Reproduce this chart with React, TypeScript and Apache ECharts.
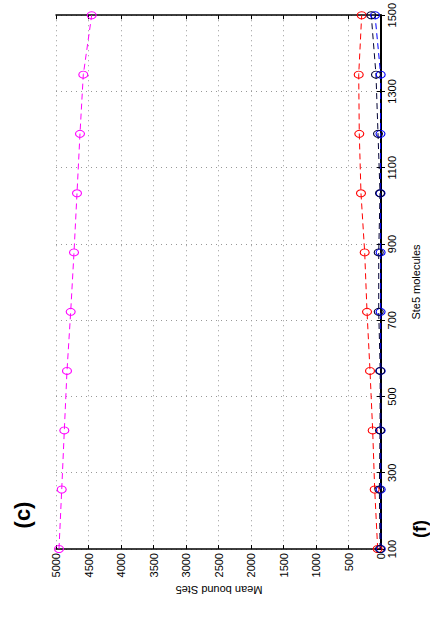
import React, { useEffect, useRef } from "react";
import * as echarts from "echarts";

const molecules = [100, 256, 411, 567, 722, 878, 1033, 1189, 1344, 1500];
const magentaSeries = [4954, 4912, 4872, 4831, 4774, 4723, 4677, 4631, 4580, 4451];
const redSeries = [51, 97, 128, 169, 215, 251, 308, 334, 343, 297];
const blueSeries = [3, 4, 5, 5, 6, 6, 7, 8, 5, 92];
const blackSeries = [15, 25, 15, 12, 35, 35, 15, 46, 77, 150];

const xLabel = "Ste5 molecules";
const yLabel = "Mean bound Ste5";
const panelC = "(c)";
const panelF = "(f)";

const FONT = "Liberation Sans, Arial, sans-serif";

function mk(name: string, vals: number[], color: string) {
  return {
    name,
    type: "line",
    data: vals.map((v, i) => [v, molecules[i]]),
    symbol: "circle",
    symbolSize: [9, 7],
    lineStyle: { color, width: 1, type: [6, 4] },
    itemStyle: { color: "rgba(255,255,255,0)", borderColor: color, borderWidth: 1 },
    z: 3,
  };
}

export default function App() {
  const ref = useRef<HTMLDivElement>(null);
  useEffect(() => {
    const chart = echarts.init(ref.current!, null, { renderer: "svg" });
    const grid = { left: 56, right: 49, top: 15, bottom: 81 };
    const tickLabel = {
      fontSize: 11,
      color: "#000",
      fontFamily: FONT,
      rotate: 90,
      margin: 4,
      formatter: (v: number) => String(v),
    };
    chart.setOption({
      animation: false,
      backgroundColor: "#fff",
      grid,
      xAxis: [
        {
          type: "value",
          min: 0,
          max: 5000,
          interval: 500,
          inverse: true,
          position: "bottom",
          axisLine: { show: true, lineStyle: { color: "#000", width: 1.5 } },
          axisTick: { show: true, inside: true, length: 4, lineStyle: { color: "#000" } },
          axisLabel: tickLabel,
          splitLine: { show: true, lineStyle: { color: "#999", type: [1, 4], width: 1 } },
        },
        {
          type: "value",
          min: 0,
          max: 5000,
          interval: 500,
          inverse: true,
          position: "top",
          axisLine: { show: true, lineStyle: { color: "#000", width: 1.5 } },
          axisTick: { show: true, inside: true, length: 4, lineStyle: { color: "#000" } },
          axisLabel: { show: false },
          splitLine: { show: false },
        },
      ],
      yAxis: [
        {
          type: "value",
          min: 100,
          max: 1500,
          interval: 200,
          position: "right",
          axisLine: { show: true, lineStyle: { color: "#000", width: 1.5 } },
          axisTick: { show: true, inside: true, length: 4, lineStyle: { color: "#000" } },
          axisLabel: { ...tickLabel, margin: 5 },
          splitLine: { show: true, lineStyle: { color: "#999", type: [1, 4], width: 1 } },
        },
        {
          type: "value",
          min: 100,
          max: 1500,
          interval: 200,
          position: "left",
          axisLine: { show: true, lineStyle: { color: "#000", width: 2 } },
          axisTick: { show: true, inside: true, length: 4, lineStyle: { color: "#000" } },
          axisLabel: { show: false },
          splitLine: { show: false },
        },
      ],
      series: [
        mk("magenta", magentaSeries, "#ff00ff"),
        mk("red", redSeries, "#ff0000"),
        mk("blue", blueSeries, "#0000ff"),
        mk("black", blackSeries, "#000033"),
      ],
      graphic: [
        {
          type: "text",
          x: 416,
          y: 282,
          rotation: Math.PI / 2,
          style: { text: xLabel, fontSize: 11, fontFamily: FONT, fill: "#000", textAlign: "center", textVerticalAlign: "middle" },
        },
        {
          type: "text",
          x: 219,
          y: 590,
          rotation: Math.PI,
          style: { text: yLabel, fontSize: 11, fontFamily: FONT, fill: "#000", textAlign: "center", textVerticalAlign: "middle" },
        },
        {
          type: "text",
          x: 22,
          y: 515,
          rotation: Math.PI / 2,
          style: { text: panelC, fontSize: 22, fontWeight: "bold", fontFamily: FONT, fill: "#000", textAlign: "center", textVerticalAlign: "middle" },
        },
        {
          type: "text",
          x: 420,
          y: 529,
          rotation: Math.PI / 2,
          style: { text: panelF, fontSize: 18, fontWeight: "bold", fontFamily: FONT, fill: "#000", textAlign: "center", textVerticalAlign: "middle" },
        },
      ],
    });
    return () => chart.dispose();
  }, []);
  return (
    <div
      ref={ref}
      style={{ position: "fixed", left: 0, top: 0, width: 430, height: 630, background: "#fff" }}
    />
  );
}
